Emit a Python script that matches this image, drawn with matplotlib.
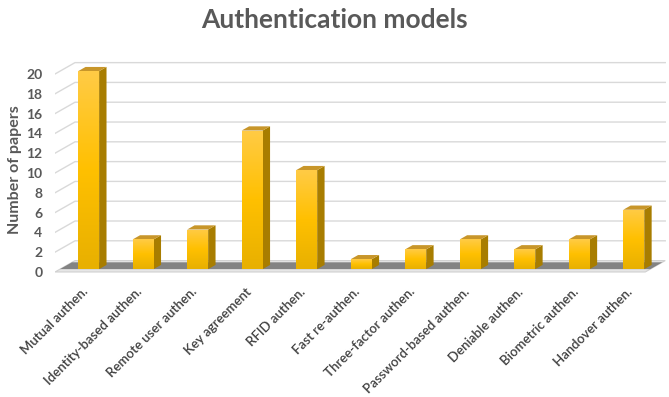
import matplotlib.pyplot as plt
import numpy as np
from matplotlib.patches import Polygon
from matplotlib.transforms import ScaledTranslation

plt.rcParams['font.family'] = ['Lato', 'DejaVu Sans']

categories = ['Mutual authen.', 'Identity-based authen.', 'Remote user authen.',
              'Key agreement', 'RFID authen.', 'Fast re-authen.',
              'Three-factor authen.', 'Password-based authen.', 'Deniable authen.',
              'Biometric authen.', 'Handover authen.']
papers = [20, 3, 4, 14, 10, 1, 2, 3, 2, 3, 6]
yticks = list(range(0, 21, 2))

# fake 3d: depth vector in data units
ddx, ddy = 0.367, 1.15
t0, t1 = 0.25, 0.62
bw = 0.385
text_col = '#595959'

fig = plt.figure(figsize=(6.69, 3.97), dpi=100)
ax = fig.add_axes([55 / 669, (397 - 280) / 397, 613 / 669, 225 / 397])
x0, x1 = -0.525, 10.72
ax.set_xlim(x0, x1)
ax.set_ylim(-0.81, 21.92)

# back wall gridlines
xb_right = x1 - 0.05
for v in yticks[1:]:
    ax.plot([x0, x0 + ddx, xb_right], [v, v + ddy, v + ddy], color='#d9d9d9', lw=1, zorder=1)

# floor
floor = Polygon([[x0, 0], [xb_right - ddx, 0], [xb_right, ddy], [x0 + ddx, ddy]],
                closed=True, facecolor='#e6e6e6', edgecolor='#d0d0d0', lw=0.8, zorder=2)
ax.add_patch(floor)
band = Polygon([[x0 + 0.25 * ddx, 0.25 * ddy], [xb_right - 0.75 * ddx, 0.25 * ddy],
                [xb_right - 0.15 * ddx, 0.85 * ddy], [x0 + 0.85 * ddx, 0.85 * ddy]],
               closed=True, facecolor='#5a5a5a', edgecolor='none', alpha=0.7, zorder=2)
ax.add_patch(band)

grad = np.linspace(0, 1, 100).reshape(-1, 1)
cmap = plt.matplotlib.colors.LinearSegmentedColormap.from_list('g', ['#e8b000', '#ffc000', '#ffcb45'])

for i, v in enumerate(papers):
    fx = i + t0 * ddx
    fy = t0 * ddy
    left, right = fx - bw / 2, fx + bw / 2
    top = fy + v
    sx, sy = (t1 - t0) * ddx, (t1 - t0) * ddy
    bars = ax.bar(fx, v, bottom=fy, width=bw, color='#ffc000', zorder=4)
    im = ax.imshow(grad, extent=[left, right, fy, top], origin='lower', cmap=cmap,
                   aspect='auto', zorder=4.5)
    im.set_clip_path(bars[0])
    side = Polygon([[right, fy], [right + sx, fy + sy], [right + sx, top + sy], [right, top]],
                   closed=True, facecolor='#a87d00', edgecolor='none', zorder=4)
    ax.add_patch(side)
    topf = Polygon([[left, top], [right, top], [right + sx, top + sy], [left + sx, top + sy]],
                   closed=True, facecolor='#c8962a', edgecolor='none', zorder=4)
    ax.add_patch(topf)

ax.set_yticks(yticks)
ax.set_yticklabels([str(v) for v in yticks], fontsize=10, fontweight='bold', color=text_col)
ax.set_xticks([i + t0 * ddx for i in range(len(categories))])
ax.set_xticklabels(categories, rotation=45, ha='right', va='center', rotation_mode='anchor',
                   fontsize=9.5, fontweight='semibold', color='#404040')
ax.tick_params(length=0)
ax.tick_params(axis='y', pad=9)
ax.tick_params(axis='x', pad=7)
for lbl in ax.get_xticklabels():
    lbl.set_transform(lbl.get_transform() + ScaledTranslation(-0.03, 0, fig.dpi_scale_trans))
for s in ax.spines.values():
    s.set_visible(False)

fig.text(15 / 669, 1 - 170 / 397, 'Number of papers', rotation=90, ha='center', va='center',
         fontsize=11.5, fontweight='bold', color=text_col)
fig.text(0.5, 1 - 20 / 397, 'Authentication models', ha='center', va='center',
         fontsize=19, fontweight='bold', color=text_col)

fig.savefig('out.png', dpi=100)
